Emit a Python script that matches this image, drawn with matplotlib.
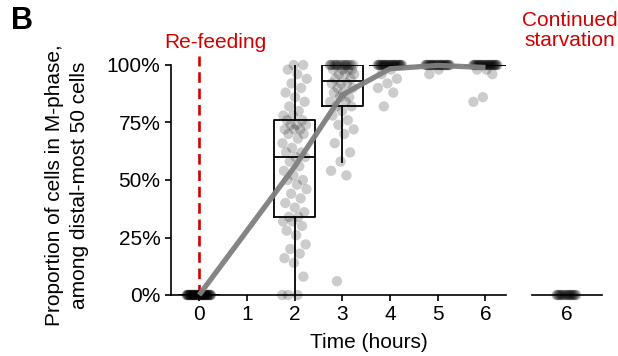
import numpy as np
import matplotlib
matplotlib.use("Agg")
import matplotlib.pyplot as plt

plt.rcParams['font.family'] = ['Liberation Sans', 'DejaVu Sans']

# percentage of cells in M-phase per gonad, by hours after re-feeding
hours = [0, 2, 3, 4, 5, 6]
pct = {
    0: [0] * 50,
    2: [0, 0, 0, 8, 14, 16, 18, 20, 22, 26, 28, 30, 32, 32, 34,
        34, 36, 38, 40, 42, 44, 46, 48, 50, 50, 52, 54, 56, 58, 60,
        60, 62, 62, 64, 66, 68, 70, 70, 72, 72, 72, 74, 74, 74, 76,
        76, 78, 78, 80, 82, 84, 86, 88, 90, 92, 94, 96, 98, 100, 100],
    3: [100] * 16 + [98, 98, 98, 98, 96, 96, 96, 94, 94, 92, 92, 92, 90, 90,
                     88, 88, 86, 86, 84, 84, 82, 82, 80, 78, 76, 74, 72,
                     70, 66, 62, 58, 54, 52, 6],
    4: [100] * 30 + [98, 96, 94, 92, 90, 88, 82],
    5: [100] * 30 + [98, 96],
    6: [100] * 30 + [98, 98, 96, 86, 84],
}
starved_hour = 6
starved_pct = [0] * 20

red = '#d40000'


def jitter(n, width=0.5):
    # evenly spread offsets (golden-ratio sequence), no randomness
    return ((np.arange(n) * 0.6180339887) % 1 - 0.5) * width


fig = plt.figure(figsize=(6.18, 3.56), dpi=100)
ax = fig.add_axes([171 / 618, 1 - 295 / 356, 335 / 618, 230 / 356])
ax2 = fig.add_axes([532 / 618, 1 - 295 / 356, 70 / 618, 230 / 356])

# jittered points
for h in hours:
    v = np.array(pct[h])
    ax.scatter(h + jitter(len(v), 0.52), v, s=55, color='black', alpha=0.2,
               edgecolors='none', clip_on=False, zorder=2)

# boxes
ax.boxplot([pct[h] for h in hours], positions=hours, widths=0.85,
           showcaps=False, showfliers=False, whis=1.5, manage_ticks=False,
           boxprops=dict(color='black', linewidth=1.3),
           whiskerprops=dict(color='black', linewidth=1.3),
           medianprops=dict(color='black', linewidth=1.3), zorder=3)

# mean trajectory
means = [np.mean(pct[h]) for h in hours]
ax.plot(hours, means, color='#7f7f7f', linewidth=3.8, alpha=0.95,
        solid_capstyle='butt', clip_on=False, zorder=4)

# re-feeding marker
ax.plot([0, 0], [0, 104], color=red, linewidth=1.9, linestyle=(0, (4, 2.2)),
        clip_on=False, zorder=1)
ax.text(0.33, 114, 'Re-feeding', color=red, fontsize=15, ha='center',
        va='top')

ax.set_xlim(-0.59, 6.43)
ax.set_ylim(0, 100)
ax.set_xticks([0, 1, 2, 3, 4, 5, 6])
ax.set_yticks([0, 25, 50, 75, 100])
ax.set_yticklabels(['0%', '25%', '50%', '75%', '100%'])
ax.tick_params(labelsize=15, length=4.5, width=1.2, pad=3)
for s in ['top', 'right']:
    ax.spines[s].set_visible(False)
for s in ['left', 'bottom']:
    ax.spines[s].set_linewidth(1.2)

# continued starvation panel
v = np.array(starved_pct)
ax2.scatter(starved_hour + jitter(len(v), 0.44), v, s=55, color='black',
            alpha=0.2, edgecolors='none', clip_on=False, zorder=2)
ax2.set_xlim(5.26, 6.74)
ax2.set_ylim(0, 100)
ax2.set_xticks([starved_hour])
ax2.set_yticks([])
ax2.tick_params(labelsize=15, length=0, pad=7.5)
for s in ['top', 'right', 'left']:
    ax2.spines[s].set_visible(False)
ax2.spines['bottom'].set_linewidth(1.2)
ax2.text(6.06, 123.5, 'Continued\nstarvation', color=red, fontsize=15,
         ha='center', va='top', linespacing=1.1)

fig.text(67 / 618, 1 - 185 / 356,
         'Proportion of cells in M-phase,\namong distal-most 50 cells',
         fontsize=15, rotation=90, ha='center', va='center', linespacing=1.4)
fig.text(369 / 618, 1 - 343 / 356, 'Time (hours)', fontsize=15, ha='center',
         va='center')
fig.text(11 / 618, 1 - 21 / 356, 'B', fontsize=22, fontweight='bold',
         ha='left', va='center')

fig.savefig('out.png', dpi=100)
